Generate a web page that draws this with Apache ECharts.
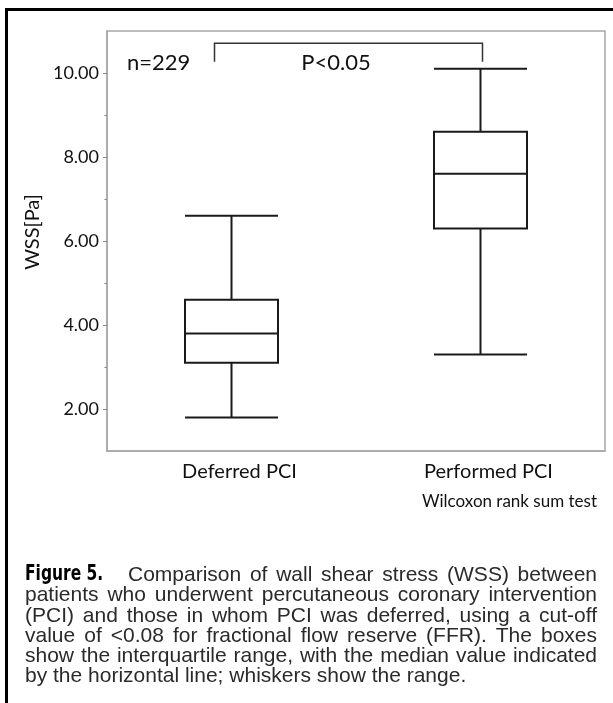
<!DOCTYPE html>
<html>
<head>
<meta charset="utf-8">
<script src="https://cdn.jsdelivr.net/npm/echarts@6/dist/echarts.min.js"></script>
<style>
html, body { margin: 0; padding: 0; background: #fff; }
#main { width: 613px; height: 703px; }
</style>
</head>
<body>
<div id="main"></div>
<script>
// box plot data (WSS, Pa)
var categories = ["Deferred PCI", "Performed PCI"];
var wssMin = [1.8, 3.3];
var wssQ1 = [3.1, 6.3];
var wssMedian = [3.8, 7.6];
var wssQ3 = [4.6, 8.6];
var wssMax = [6.6, 10.1];
var yTickValues = [2, 4, 6, 8, 10];
var yMinorTicks = [3, 5, 7, 9];
// significance bracket: leg ends / top bar
var bracketLevels = [10.27, 10.71];

var captionLead = "Figure 5.";
var captionLines = [
  "Comparison of wall shear stress (WSS) between",
  "patients who underwent percutaneous coronary intervention",
  "(PCI) and those in whom PCI was deferred, using a cut-off",
  "value of <0.08 for fractional flow reserve (FFR). The boxes",
  "show the interquartile range, with the median value indicated",
  "by the horizontal line; whiskers show the range."
];

var myChart = echarts.init(document.getElementById("main"));

var boxData = categories.map(function (c, i) {
  return [wssMin[i], wssQ1[i], wssMedian[i], wssQ3[i], wssMax[i]];
});

var gray = "#a8a8a8";
var ink = "#111";

myChart.setOption({
  animation: false,
  grid: {
    left: 107,
    top: 31,
    width: 498,
    height: 420,
    show: true,
    borderColor: gray,
    borderWidth: 1.5
  },
  xAxis: {
    type: "category",
    data: categories,
    axisLine: { show: true, lineStyle: { color: gray, width: 1.5 } },
    axisTick: { show: false },
    axisLabel: {
      color: ink,
      fontFamily: "Lato",
      fontSize: 20,
      margin: 11,
      padding: [0, 0, 0, 16]
    }
  },
  yAxis: [
    {
      type: "value",
      min: 1,
      max: 11,
      name: "WSS[Pa]",
      nameLocation: "middle",
      nameGap: 64,
      nameRotate: 90,
      nameTextStyle: {
        color: ink,
        fontFamily: "Lato",
        fontSize: 20,
        padding: [0, 0, 0, 18]
      },
      axisLine: { show: true, lineStyle: { color: gray, width: 1.5 } },
      axisTick: {
        show: true,
        customValues: yTickValues,
        length: 4,
        lineStyle: { color: "#888" }
      },
      axisLabel: {
        customValues: yTickValues,
        formatter: function (v) {
          return v.toFixed(2);
        },
        margin: 8,
        color: ink,
        fontFamily: "Lato",
        fontSize: 18
      },
      splitLine: { show: false }
    },
    {
      // minor ticks at odd values
      type: "value",
      min: 1,
      max: 11,
      position: "left",
      axisLine: { show: false },
      axisTick: {
        show: true,
        customValues: yMinorTicks,
        length: 2.5,
        lineStyle: { color: "#888" }
      },
      axisLabel: { show: false },
      splitLine: { show: false }
    }
  ],
  series: [
    {
      type: "boxplot",
      data: boxData,
      boxWidth: [93, 93],
      silent: true,
      itemStyle: {
        color: "#fff",
        borderColor: "#1a1a1a",
        borderWidth: 2
      }
    }
  ]
});

// annotations: bracket, texts, frame, caption
var ctx = document.createElement("canvas").getContext("2d");
var capFont = '21px "Liberation Sans"';

function layoutLine(text, x0, x1, y, justify) {
  var words = text.split(" ");
  ctx.font = capFont;
  var widths = words.map(function (w) {
    return ctx.measureText(w).width;
  });
  var total = widths.reduce(function (a, b) {
    return a + b;
  }, 0);
  var gap = justify ? (x1 - x0 - total) / (words.length - 1) : ctx.measureText(" ").width;
  var x = x0;
  var out = [];
  words.forEach(function (w, i) {
    out.push({
      type: "text",
      x: x,
      y: y,
      silent: true,
      style: {
        text: w,
        font: capFont,
        fill: "#2a2a2a",
        textAlign: "left",
        textVerticalAlign: "middle"
      }
    });
    x += widths[i] + gap;
  });
  return out;
}

var cx0 = myChart.convertToPixel({ xAxisIndex: 0 }, 0);
var cx1 = myChart.convertToPixel({ xAxisIndex: 0 }, 1);
var yLeg = myChart.convertToPixel({ yAxisIndex: 0 }, bracketLevels[0]);
var yTop = myChart.convertToPixel({ yAxisIndex: 0 }, bracketLevels[1]);
var bxL = cx0 - 17;
var bxR = cx1 + 2;

var graphics = [
  {
    type: "polyline",
    silent: true,
    shape: { points: [[bxL, yLeg], [bxL, yTop], [bxR, yTop], [bxR, yLeg]] },
    style: { stroke: "#333", lineWidth: 1.5, fill: null }
  },
  {
    type: "text",
    x: 127,
    y: 63,
    style: {
      text: "n=229",
      fontFamily: "Lato",
      fontSize: 22,
      fill: ink,
      textAlign: "left",
      textVerticalAlign: "middle"
    }
  },
  {
    type: "text",
    x: 336,
    y: 63,
    style: {
      text: "P<0.05",
      fontFamily: "Lato",
      fontSize: 22,
      fill: ink,
      textAlign: "center",
      textVerticalAlign: "middle"
    }
  },
  {
    type: "text",
    x: 597,
    y: 502,
    style: {
      text: "Wilcoxon rank sum test",
      fontFamily: "Lato",
      fontSize: 17,
      fill: ink,
      textAlign: "right",
      textVerticalAlign: "middle"
    }
  },
  // outer frame (top + left)
  {
    type: "line",
    silent: true,
    shape: { x1: 5, y1: 9.5, x2: 613, y2: 9.5 },
    style: { stroke: "#000", lineWidth: 3 }
  },
  {
    type: "line",
    silent: true,
    shape: { x1: 6.5, y1: 8, x2: 6.5, y2: 703 },
    style: { stroke: "#000", lineWidth: 3 }
  },
  {
    type: "text",
    x: 25,
    y: 575,
    scaleX: 0.82,
    style: {
      text: captionLead,
      font: 'bold 21px "DejaVu Sans Condensed", "Liberation Sans Narrow", sans-serif',
      fill: "#000",
      textAlign: "left",
      textVerticalAlign: "middle"
    }
  }
];

var lineY = [575, 595.5, 616, 636, 656, 676];
captionLines.forEach(function (t, i) {
  var x0 = i === 0 ? 128 : 25;
  var last = i === captionLines.length - 1;
  graphics = graphics.concat(layoutLine(t, x0, 597, lineY[i], !last));
});

myChart.setOption({ graphic: graphics });
</script>
</body>
</html>
